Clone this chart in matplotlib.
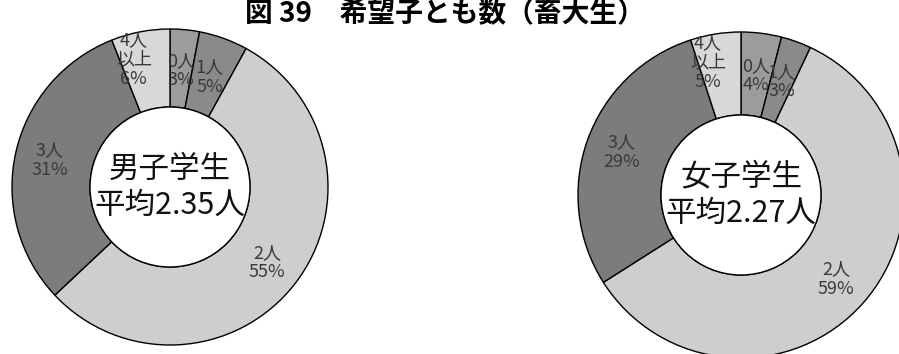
import numpy as np
import matplotlib
matplotlib.use("Agg")
import matplotlib.pyplot as plt

plt.rcParams['font.family'] = ['Noto Sans CJK JP', 'DejaVu Sans']

# data
categories = ['0人', '1人', '2人', '3人', '4人\n以上']
male_pct = [3, 5, 55, 31, 6]
female_pct = [4, 3, 59, 29, 5]
male_center = '男子学生\n平均2.35人'
female_center = '女子学生\n平均2.27人'
title = '図 39　希望子とも数（畜大生）'

colors = ['#9c9c9c', '#8a8a8a', '#cecece', '#7c7c7c', '#d8d8d8']

W, H = 899, 354
fig = plt.figure(figsize=(W / 100, H / 100), dpi=100)
ax = fig.add_axes([0, 0, 1, 1])


def donut(values, center, radius, hole, text):
    cx, cy = center
    wedges, _ = ax.pie(values, colors=colors, startangle=90, counterclock=False,
                       center=center, radius=radius,
                       wedgeprops=dict(width=radius - hole, edgecolor='black', linewidth=1.0))
    ax.add_patch(plt.Circle(center, hole, facecolor='white', edgecolor='black', lw=1.0, zorder=3))
    for w, cat, v in zip(wedges, categories, values):
        ang = np.deg2rad((w.theta1 + w.theta2) / 2)
        r = radius * 0.78
        if '以上' in cat:
            ang += np.deg2rad(5)
            r = radius * 0.84
        elif v < 10:
            r = radius * 0.74
        x = cx + r * np.cos(ang)
        y = cy + r * np.sin(ang)
        ax.text(x, y, f'{cat}\n{v}%', ha='center', va='center', fontsize=13,
                color='#3a3a3a', linespacing=1.1, zorder=4)
    ax.text(cx, cy, text, ha='center', va='center', fontsize=22, color='#111111',
            linespacing=1.2, zorder=5)


donut(male_pct, (170, H - 187), 158, 80, male_center)
donut(female_pct, (741, H - 195), 163, 80, female_center)

ax.text(445, H - 13, title, ha='center', va='center', fontsize=20, fontweight='bold',
        color='black', zorder=6)

ax.set_xlim(0, W)
ax.set_ylim(0, H)
ax.set_aspect('auto')
ax.axis('off')

fig.savefig('out.png', dpi=100, facecolor='white')
